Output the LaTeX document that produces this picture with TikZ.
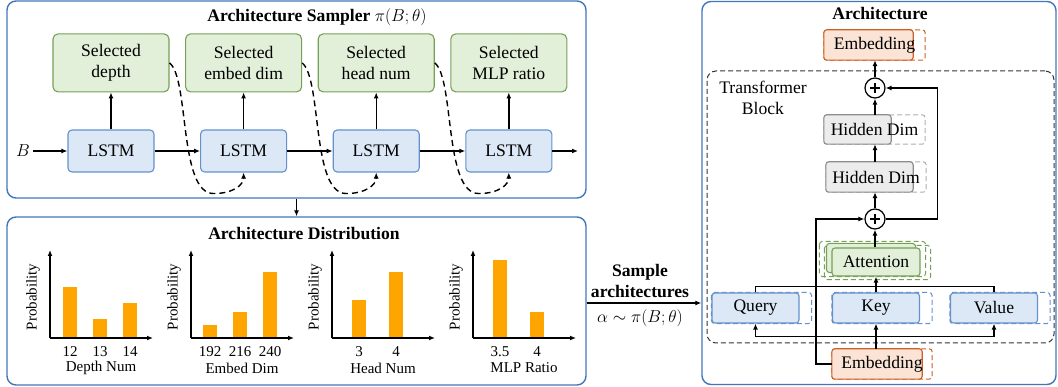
\documentclass[tikz,border=0pt]{standalone}
\usepackage{fontspec}
\setmainfont{Liberation Serif}
\usepackage{tikz}
\usetikzlibrary{arrows.meta,positioning,backgrounds,calc}

\definecolor{panelblue}{RGB}{66,118,186}
\definecolor{lstmfill}{RGB}{220,232,246}
\definecolor{lstmline}{RGB}{100,145,205}
\definecolor{selfill}{RGB}{226,239,217}
\definecolor{selline}{RGB}{118,160,88}
\definecolor{embfill}{RGB}{251,228,214}
\definecolor{embline}{RGB}{204,96,36}
\definecolor{hidfill}{RGB}{236,236,236}
\definecolor{hidline}{RGB}{140,140,140}
\definecolor{barorange}{RGB}{255,165,0}

\begin{document}
\begin{tikzpicture}[
    x=1pt, y=-1pt,
    font=\fontsize{17.6}{21}\selectfont,
    panel/.style={draw=panelblue, line width=1.4pt, rounded corners=9pt},
    lstm/.style={draw=lstmline, fill=lstmfill, line width=1.1pt, rounded corners=4pt, minimum width=86pt, minimum height=42pt, inner sep=0pt},
    sel/.style={draw=selline, fill=selfill, line width=1.1pt, rounded corners=5pt, minimum width=116pt, minimum height=58pt, align=center, inner sep=0pt},
    slot/.style={minimum width=100pt, minimum height=30pt, inner sep=0pt},
    qkv/.style={draw=lstmline, fill=lstmfill, line width=1.1pt, rounded corners=3pt, minimum width=87pt, minimum height=30pt, inner sep=0pt},
    attbox/.style={draw=selline, fill=selfill, line width=1.1pt, rounded corners=3pt, minimum width=88pt, minimum height=28pt, inner sep=0pt},
    plus/.style={draw, circle, line width=1.2pt, minimum size=20pt, inner sep=0pt,
        path picture={\draw[line width=1.1pt]
            ([xshift=-5pt]path picture bounding box.center) -- ([xshift=5pt]path picture bounding box.center)
            ([yshift=-5pt]path picture bounding box.center) -- ([yshift=5pt]path picture bounding box.center);}},
    ghost/.style={dashed, dash pattern=on 5pt off 3pt, line width=1pt, rounded corners=3pt},
    chosen/.style={line width=1.1pt, rounded corners=3pt},
    arr/.style={-{Latex[length=6pt,width=5pt]}, line width=1.4pt},
    feedback/.style={arr, dash pattern=on 6pt off 4pt},
    small/.style={font=\fontsize{15}{18}\selectfont},
    title/.style={font=\fontsize{17.6}{21}\selectfont\bfseries},
    probbar/.style={fill=barorange}
]
\useasboundingbox (0,0) rectangle (1058,387);

% panels
\node[panel, minimum width=579pt, minimum height=197pt] (samp) at (296.5,99.5) {};
\node[panel, minimum width=579pt, minimum height=168pt] (dist) at (296.5,301) {};
\node[panel, minimum width=354pt, minimum height=383pt] (arch) at (879,193) {};

% architecture sampler
\node[title] (samptitle) at (317,17) {Architecture Sampler \mdseries$\pi(B;\theta)$};
\node (B) at (23,151) {$B$};
\node[lstm] (l1) at (111,151) {LSTM};
\node[lstm, right=45.5pt of l1] (l2) {LSTM};
\node[lstm, right=45.5pt of l2] (l3) {LSTM};
\node[lstm, right=45.5pt of l3] (l4) {LSTM};
\node[sel, above=37pt of l1] (s1) {Selected\\depth};
\node[sel, above=37pt of l2] (s2) {Selected\\embed dim};
\node[sel, above=37pt of l3] (s3) {Selected\\head num};
\node[sel, above=37pt of l4] (s4) {Selected\\MLP ratio};
\coordinate (lout) at (578,151);

\draw[arr] (B) -- (l1);
\draw[arr] (l1) -- (l2);
\draw[arr] (l2) -- (l3);
\draw[arr] (l3) -- (l4);
\draw[arr] (l4) -- (lout);
\foreach \i in {1,...,4}
    \draw[arr] (l\i.north) -- (s\i.south);
\foreach \a/\b in {s1/l2, s2/l3, s3/l4}
    \draw[feedback] (\a.east) .. controls +(20,16) and +(-35,0) .. ($(\b.south)+(-30,21)$)
        .. controls +(20,0) and +(0,12) .. (\b.south);

\draw[arr] (samp.south) -- (dist.north);

% architecture distribution
\node[title] (disttitle) at (304,234) {Architecture Distribution};
\foreach \ox/\lab in {50/Depth Num, 191/Embed Dim, 332/Head Num, 473/MLP Ratio} {
    \draw[arr] (\ox,338) -- (\ox,250);
    \draw[arr] (\ox,338) -- (\ox+103,338);
    \node[small, rotate=90] at (\ox-17,297) {Probability};
    \node[small] at (\ox+51,368) {\lab};
}
\foreach \bx/\top/\val in {70/287/12, 100/319/13, 130/303/14, 210/325/192, 240/312/216, 270/272/240,
                           359/300/3, 396/272/4, 500/260/3.5, 537/312/4} {
    \fill[probbar] (\bx-7,\top) rectangle (\bx+7,337.3);
    \node[small] at (\bx,352) {\val};
}

% sampling
\coordinate (sa) at (640,303);
\draw[arr] (dist.east |- sa) -- (arch.west |- sa);
\node[title, align=center] (smp) at (640,281) {Sample\\architectures};
\node (alpha) at (640,318) {$\alpha\sim\pi(B;\theta)$};

% architecture
\node[title] (archtitle) at (880,14) {Architecture};
\node[draw=black!80, ghost, rounded corners=9pt, minimum width=347pt, minimum height=272pt] (blk) at (880.5,207) {};
\node[align=center] (blkname) at (763,98) {Transformer\\Block};

\node[slot, minimum width=101pt] (embT) at (874.5,45) {Embedding};
\node[plus] (p1) at (875,88) {};
\node[slot, minimum width=101pt, minimum height=29pt] (hid1) at (874.5,129.5) {Hidden Dim};
\node[slot] (hid2) at (876,177) {Hidden Dim};
\node[plus] (p2) at (875,219) {};
\node[attbox] (att) at (876,262) {Attention};
\node[qkv] (q) at (755.5,308) {Query};
\node[qkv] (k) at (876,308) {Key};
\node[qkv] (v) at (994,308) {Value};
\node[slot] (embB) at (882,364) {Embedding};

\begin{scope}[on background layer]
    \draw[ghost, draw=embline] (embT.north west) rectangle (embT.south east);
    \draw[chosen, draw=embline, fill=embfill] (embT.north west) rectangle ([xshift=-12pt]embT.south east);
    \draw[ghost, draw=hidline!70] (hid1.north west) rectangle (hid1.south east);
    \draw[chosen, draw=hidline, fill=hidfill] (hid1.north west) rectangle ([xshift=-34pt]hid1.south east);
    \draw[ghost, draw=hidline!70] (hid2.north west) rectangle (hid2.south east);
    \draw[chosen, draw=hidline, fill=hidfill] (hid2.north west) rectangle ([xshift=-13pt]hid2.south east);
    \draw[ghost, draw=embline] (embB.north west) rectangle (embB.south east);
    \draw[chosen, draw=embline, fill=embfill] (embB.north west) rectangle ([xshift=-10pt]embB.south east);
    \draw[ghost, draw=selline] ([shift={(-12pt,6pt)}]att.north west) rectangle ([shift={(5pt,0pt)}]att.south east);
    \draw[ghost, draw=selline] ([shift={(-7pt,2pt)}]att.north west) rectangle ([shift={(10pt,-3pt)}]att.south east);
    \draw[chosen, draw=selline, fill=selfill] ([shift={(-5pt,4pt)}]att.north west) rectangle ([shift={(-5pt,4pt)}]att.south east);
    \foreach \n in {q,k,v}
        \draw[ghost, draw=lstmline] (\n.north west) rectangle ([xshift=12pt]\n.south east);
\end{scope}

\draw[arr] (p1.north) -- (embT.south -| p1.north);
\draw[arr] (hid1.north -| p1.south) -- (p1.south);
\draw[arr] (hid2.north -| p1.south) -- (hid1.south -| p1.south);
\draw[arr] (p2.north) -- (hid2.south -| p2.north);
\draw[arr] (att.north -| p2.south) -- (p2.south);
\draw[arr] (p2.east) -- ++(52,0) |- (p1.east);
\draw[arr] (embB.west) -- ++(-16,0) |- (p2.west);
\draw[line width=1.4pt] (q.north) -- ++(0,-6) -| (v.north);
\draw[arr] (k.north) -- (att.south);
\draw[line width=1.4pt] (embB.north -| k.south) -- ++(0,-12) coordinate (bus);
\draw[arr] (bus) -- (k.south);
\draw[arr] (bus) -| (q.south);
\draw[arr] (bus) -| (v.south);
\end{tikzpicture}
\end{document}
